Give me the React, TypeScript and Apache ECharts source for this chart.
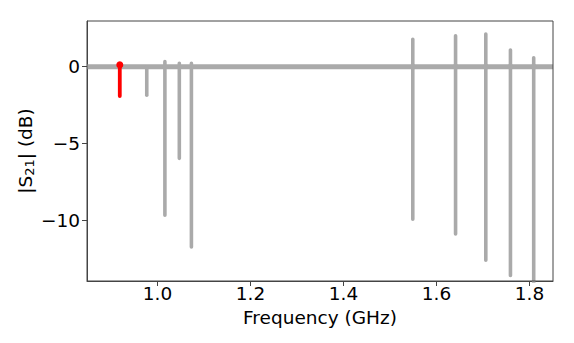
import React, { useEffect, useRef } from "react";
import * as echarts from "echarts";

// Resonance spikes (GHz, dB)
const spikeFreqs = [0.977, 1.016, 1.047, 1.073, 1.549, 1.641, 1.706, 1.759, 1.809];
const spikePeaks = [0.0, 0.33, 0.22, 0.22, 1.79, 2.02, 2.13, 1.09, 0.59];
const spikeDips = [-1.85, -9.67, -5.97, -11.74, -9.94, -10.9, -12.6, -13.6, -14.5];

// Highlighted (red) resonance
const highlightFreq = [0.919];
const highlightPeak = [0.12];
const highlightDip = [-1.91];

// Off-resonance baseline level
const baselineLevel = [0];

const xTicks = [1.0, 1.2, 1.4, 1.6, 1.8];
const yTicks = [-10, -5, 0];

const X_MIN = 0.8485;
const X_MAX = 1.8505;
const Y_MIN = -13.96;
const Y_MAX = 2.98;

const GRAY = "#aaaaaa";
const FONT = "DejaVu Sans";
const FS = 18.5;

export default function App() {
  const ref = useRef<HTMLDivElement>(null);
  useEffect(() => {
    document.body.style.margin = "0";
    if (!ref.current) return;
    const chart = echarts.init(ref.current, null, { renderer: "svg" });

    const series: any[] = [];
    series.push({
      type: "line",
      data: [
        [X_MIN, baselineLevel[0]],
        [X_MAX, baselineLevel[0]],
      ],
      showSymbol: false,
      lineStyle: { color: GRAY, width: 5 },
      z: 2,
    });
    spikeFreqs.forEach((f, i) => {
      const bulge = spikePeaks[i] > 0.5;
      series.push({
        type: "line",
        data: [
          [f, spikePeaks[i]],
          bulge
            ? { value: [f, 0], symbol: "circle", symbolSize: 6, itemStyle: { color: GRAY } }
            : [f, 0],
          [f, spikeDips[i]],
        ],
        showSymbol: true,
        symbol: "none",
        lineStyle: { color: GRAY, width: 3.6, cap: "round" },
        itemStyle: { color: GRAY },
        z: 3,
      });
    });
    series.push({
      type: "line",
      data: [
        { value: [highlightFreq[0], highlightPeak[0]], symbol: "circle", symbolSize: 7 },
        [highlightFreq[0], highlightDip[0]],
      ],
      showSymbol: true,
      symbol: "none",
      lineStyle: { color: "#ff0000", width: 3.8, cap: "round" },
      itemStyle: { color: "#ff0000" },
      z: 4,
    });

    chart.setOption({
      animation: false,
      grid: { left: 87, right: 21, top: 21, bottom: 62, containLabel: false },
      xAxis: {
        type: "value",
        min: X_MIN,
        max: X_MAX,
        name: "Frequency (GHz)",
        nameLocation: "middle",
        nameGap: 16,
        nameTextStyle: { fontFamily: FONT, fontSize: FS, color: "#000" },
        axisLine: { show: true, onZero: false, lineStyle: { color: "#444", width: 1 } },
        axisTick: {
          show: true,
          inside: false,
          length: 5,
          customValues: xTicks,
          lineStyle: { color: "#444", width: 1 },
        },
        axisLabel: {
          customValues: xTicks,
          formatter: (v: number) => v.toFixed(1),
          fontFamily: FONT,
          fontSize: FS,
          color: "#000",
          margin: 3,
        },
        splitLine: { show: false },
      },
      yAxis: {
        type: "value",
        min: Y_MIN,
        max: Y_MAX,
        axisLine: { show: true, onZero: false, lineStyle: { color: "#444", width: 1 } },
        axisTick: {
          show: true,
          inside: false,
          length: 5,
          customValues: yTicks,
          lineStyle: { color: "#444", width: 1 },
        },
        axisLabel: {
          customValues: yTicks,
          formatter: (v: number) => (v < 0 ? "\u2212" + Math.abs(v) : String(v)),
          fontFamily: FONT,
          fontSize: FS,
          color: "#000",
          margin: 7,
        },
        splitLine: { show: false },
      },
      graphic: [
        {
          type: "rect",
          shape: { x: 87, y: 21, width: 466, height: 260 },
          style: { fill: "none", stroke: "#444", lineWidth: 1 },
          silent: true,
          z: 10,
        },
        {
          type: "text",
          x: 25,
          y: 151,
          rotation: Math.PI / 2,
          style: {
            text: "|S{sub|21}| (dB)",
            fontFamily: FONT,
            fontSize: FS,
            fill: "#000",
            align: "center",
            verticalAlign: "middle",
            rich: {
              sub: { fontFamily: FONT, fontSize: 13, fill: "#000", padding: [9, 0, 0, 0] },
            },
          },
        },
      ],
      series,
    });
    return () => chart.dispose();
  }, []);
  return <div ref={ref} style={{ width: 574, height: 343 }} />;
}
